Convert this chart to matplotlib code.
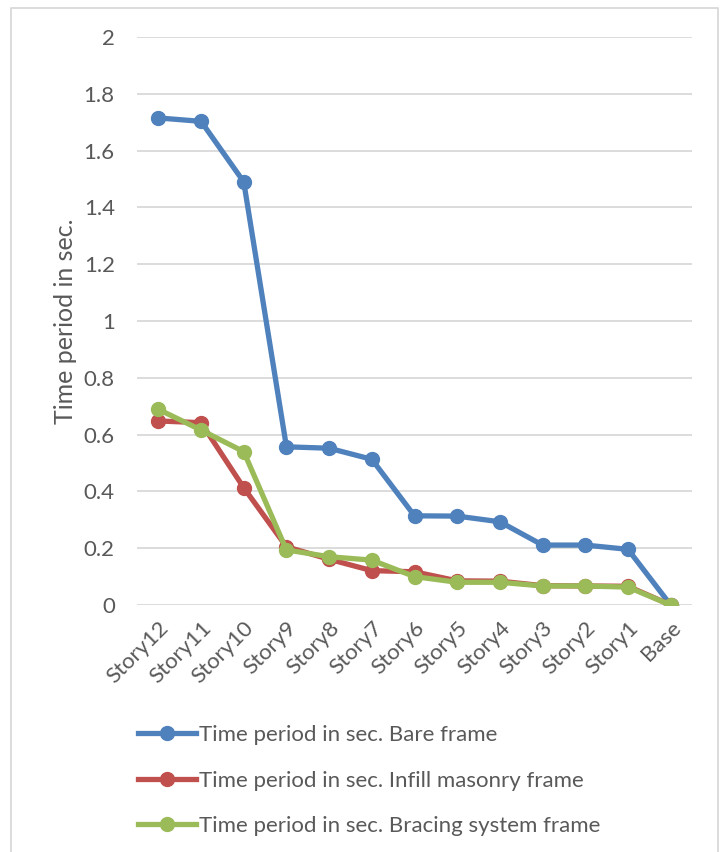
import matplotlib
matplotlib.use("Agg")
import matplotlib.pyplot as plt
from matplotlib.lines import Line2D

# Storey labels, top to base
stories = ["Story12", "Story11", "Story10", "Story9", "Story8", "Story7",
           "Story6", "Story5", "Story4", "Story3", "Story2", "Story1", "Base"]

# Time period (s) for each framing system
bare_frame = [1.715, 1.703, 1.490, 0.557, 0.552, 0.513, 0.314, 0.313,
              0.293, 0.211, 0.211, 0.196, 0.0]
infill_frame = [0.648, 0.642, 0.413, 0.205, 0.161, 0.121, 0.117, 0.085,
                0.084, 0.068, 0.067, 0.066, 0.0]
bracing_frame = [0.689, 0.616, 0.540, 0.194, 0.170, 0.158, 0.100, 0.080,
                 0.080, 0.067, 0.067, 0.063, 0.0]

series_names = ["Time period in sec. Bare frame",
                "Time period in sec. Infill masonry frame",
                "Time period in sec. Bracing system frame"]
colors = ["#4F81BD", "#C0504D", "#9BBB59"]
y_ticks = [0, 0.2, 0.4, 0.6, 0.8, 1, 1.2, 1.4, 1.6, 1.8, 2]

plt.rcParams["font.family"] = ["Lato", "DejaVu Sans"]
text_color = "#595959"

W, H = 723, 852
fig = plt.figure(figsize=(W / 100, H / 100), dpi=100)
ax = fig.add_axes([137 / W, 1 - 605 / H, (692 - 137) / W, (605 - 37) / H])

x = list(range(len(stories)))
for vals, c in zip([bare_frame, infill_frame, bracing_frame], colors):
    ax.plot(x, vals, color=c, lw=3.8, marker="o", markersize=10,
            solid_joinstyle="round", zorder=3)

ax.set_xlim(-0.5, len(stories) - 0.5)
ax.set_ylim(0, 2)
ax.set_yticks(y_ticks)
ax.set_yticklabels([f"{v:g}" for v in y_ticks])
ax.set_xticks(x)
ax.set_xticklabels(stories, rotation=45, ha="right", va="top",
                   rotation_mode="anchor")
ax.tick_params(axis="both", length=0, labelsize=16, colors=text_color)
ax.tick_params(axis="y", pad=16)
ax.tick_params(axis="x", pad=9)
ax.grid(axis="y", color="#D9D9D9", lw=1.3)
ax.set_axisbelow(True)
for s in ax.spines.values():
    s.set_visible(False)
ax.set_ylabel("Time period in sec.", fontsize=18, color=text_color)
ax.yaxis.set_label_coords((77 - 137) / 555, 0.5)

handles = [Line2D([0], [0], color=c, lw=3.8, marker="o", markersize=10)
           for c in colors]
leg = fig.legend(handles, series_names, loc="upper left",
                 bbox_to_anchor=(118 / W, 1 - 705 / H), frameon=False,
                 fontsize=16, handlelength=2.6, handletextpad=0.15,
                 labelspacing=1.15, labelcolor=text_color)

# outer chart border (left, top, right)
bx0, bx1, by0 = 11 / W, 718 / W, 1 - 8 / H
fig.add_artist(Line2D([bx0, bx0, bx1, bx1], [0, by0, by0, 0],
                      transform=fig.transFigure, color="#D9D9D9", lw=1.3))

fig.savefig("out.png", dpi=100)
